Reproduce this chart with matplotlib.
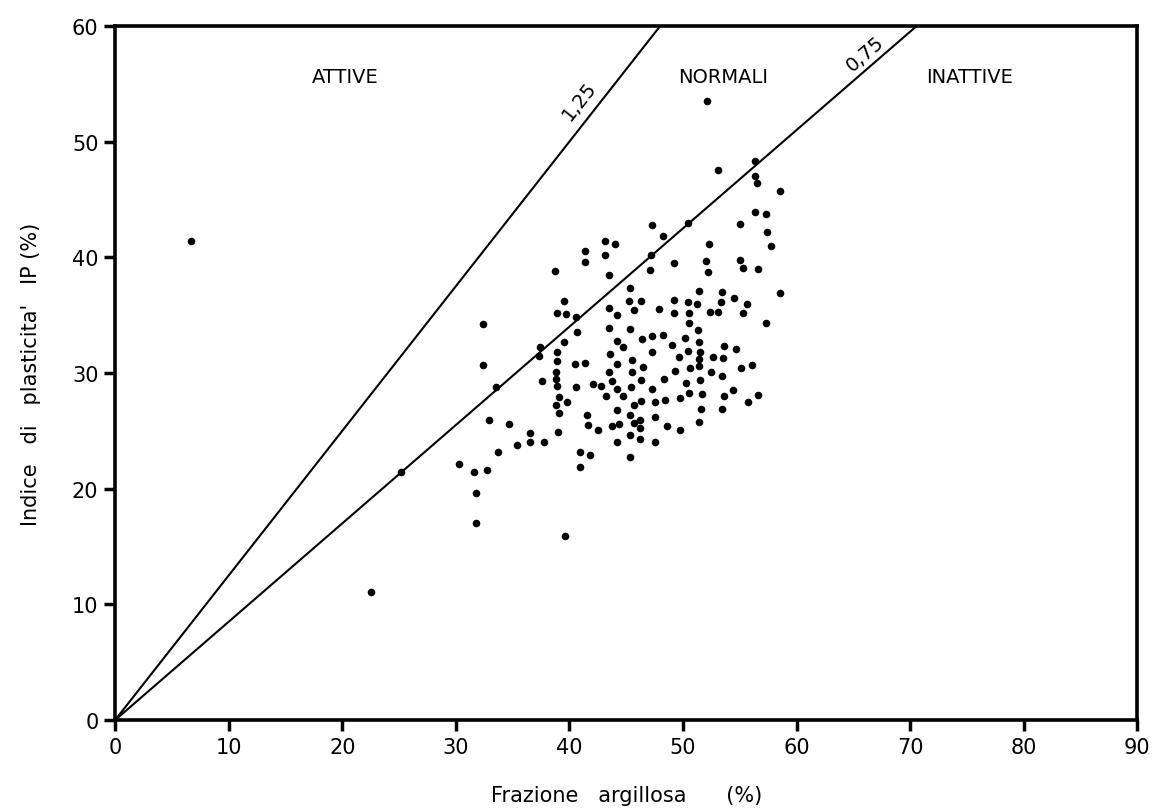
import numpy as np
import matplotlib.pyplot as plt

# frazione argillosa (%) and indice di plasticita' (%)
clay = [52.1, 56.3, 53.1, 56.3, 56.5, 58.5, 56.3, 57.3, 55.0, 47.3, 50.4, 48.2, 57.4, 43.1, 44.0,
        52.3, 57.7, 41.4, 43.1, 47.2, 49.2, 52.0, 55.0, 55.3, 56.6, 52.2, 47.1, 41.4, 38.7, 43.5,
        58.5, 45.3, 51.4, 53.4, 54.5, 45.2, 46.3, 49.2, 50.4, 51.2, 53.3, 55.6, 39.5, 38.9, 39.7,
        40.6, 43.5, 47.9, 45.7, 49.2, 50.5, 52.4, 53.1, 55.3, 44.2, 32.4, 57.3, 50.5, 43.5, 45.3,
        51.3, 40.7, 48.2, 47.3, 50.2, 46.4, 39.5, 44.2, 51.4, 49.0, 37.4, 44.7, 53.6, 54.7, 38.9,
        50.4, 51.5, 47.3, 37.3, 43.6, 49.6, 52.6, 53.5, 51.4, 38.9, 45.5, 32.4, 40.5, 41.4, 44.2,
        46.5, 51.4, 56.1, 50.6, 55.1, 49.3, 52.5, 38.8, 43.5, 45.5, 53.4, 37.6, 38.8, 43.7, 48.3,
        51.5, 46.3, 50.3, 38.9, 40.6, 42.1, 42.8, 45.4, 44.2, 54.4, 47.3, 33.5, 50.5, 51.7, 56.6,
        53.6, 39.1, 43.2, 44.7, 48.4, 49.7, 39.8, 47.5, 55.7, 46.3, 38.8, 45.7, 51.6, 53.4, 44.2,
        39.1, 41.5, 45.3, 47.5, 32.9, 34.7, 41.6, 43.7, 44.4, 45.7, 46.2, 51.4, 42.5, 36.5, 39.0,
        46.2, 48.6, 49.7, 36.5, 35.4, 37.8, 45.3, 46.2, 44.2, 47.5, 33.7, 40.9, 41.8, 40.9, 30.3,
        31.6, 32.7, 31.8, 31.8, 39.6, 25.2, 22.5, 45.3, 6.7]
ip = [53.5, 48.3, 47.5, 47.0, 46.4, 45.7, 43.9, 43.7, 42.9, 42.8, 43.0, 41.8, 42.2, 41.4, 41.1,
      41.1, 41.0, 40.5, 40.2, 40.2, 39.5, 39.7, 39.8, 39.1, 39.0, 38.7, 38.9, 39.6, 38.8, 38.5,
      36.9, 37.3, 37.1, 37.0, 36.5, 36.2, 36.2, 36.3, 36.1, 36.0, 36.1, 36.0, 36.2, 35.2, 35.1,
      34.8, 35.6, 35.5, 35.4, 35.2, 35.2, 35.3, 35.3, 35.2, 35.0, 34.2, 34.3, 34.3, 33.9, 33.8,
      33.7, 33.5, 33.3, 33.2, 33.0, 32.9, 32.7, 32.8, 32.7, 32.4, 32.2, 32.2, 32.3, 32.1, 31.8,
      31.9, 31.8, 31.8, 31.5, 31.6, 31.4, 31.4, 31.3, 31.2, 31.0, 31.1, 30.7, 30.8, 30.9, 30.8,
      30.5, 30.6, 30.7, 30.4, 30.4, 30.2, 30.1, 30.1, 30.1, 30.1, 29.7, 29.3, 29.5, 29.3, 29.5,
      29.4, 29.4, 29.1, 28.9, 28.8, 29.0, 28.9, 28.8, 28.6, 28.5, 28.6, 28.8, 28.3, 28.2, 28.1,
      28.0, 27.9, 28.0, 28.0, 27.7, 27.8, 27.5, 27.5, 27.5, 27.6, 27.2, 27.2, 26.9, 26.9, 26.8,
      26.5, 26.4, 26.4, 26.2, 25.9, 25.6, 25.5, 25.4, 25.6, 25.7, 25.9, 25.8, 25.1, 24.8, 24.9,
      25.2, 25.4, 25.1, 24.0, 23.8, 24.0, 24.6, 24.3, 24.0, 24.0, 23.2, 23.2, 22.9, 21.9, 22.1,
      21.4, 21.6, 19.6, 17.0, 15.9, 21.4, 11.1, 22.7, 41.4]

# activity lines (IP / clay fraction) as drawn, with their printed labels
act_slopes = [1.25, 0.85]
act_labels = ['1,25', '0,75']
act_label_x = [40.9, 66.0]
act_label_y = [53.6, 57.6]

zones = ['ATTIVE', 'NORMALI', 'INATTIVE']
zone_x = [20.3, 53.5, 75.2]
zone_y = [55.6, 55.6, 55.6]

xticks = np.arange(0, 91, 10)
yticks = np.arange(0, 61, 10)

fig = plt.figure(figsize=(11.63, 8.12), dpi=100)
ax = fig.add_axes([0.099, 0.112, 0.879, 0.855])

xx = np.linspace(0, 90, 200)
for s in act_slopes:
    ax.plot(xx, s * xx, color='black', lw=1.5, solid_capstyle='butt', zorder=2)

ax.scatter(clay, ip, s=30, color='black', zorder=3, linewidths=0)

for lab, lx, ly, s in zip(act_labels, act_label_x, act_label_y, act_slopes):
    ang = np.degrees(np.arctan(s))
    ax.text(lx, ly, lab, rotation=ang, rotation_mode='anchor', transform_rotates_text=True,
            ha='center', va='center', fontsize=14)

for z, zx, zy in zip(zones, zone_x, zone_y):
    ax.text(zx, zy, z, ha='center', va='center', fontsize=14)

ax.set_xlim(0, 90)
ax.set_ylim(0, 60)
ax.set_xticks(xticks)
ax.set_yticks(yticks)
ax.tick_params(axis='both', direction='out', length=8, width=2.5, labelsize=15, pad=4)
for sp in ax.spines.values():
    sp.set_linewidth(2.6)
ax.set_xlabel('Frazione   argillosa      (%)', fontsize=15, labelpad=20)
ax.set_ylabel("Indice   di   plasticita'   IP (%)", fontsize=15, labelpad=22)

fig.savefig('out.png', dpi=100)
